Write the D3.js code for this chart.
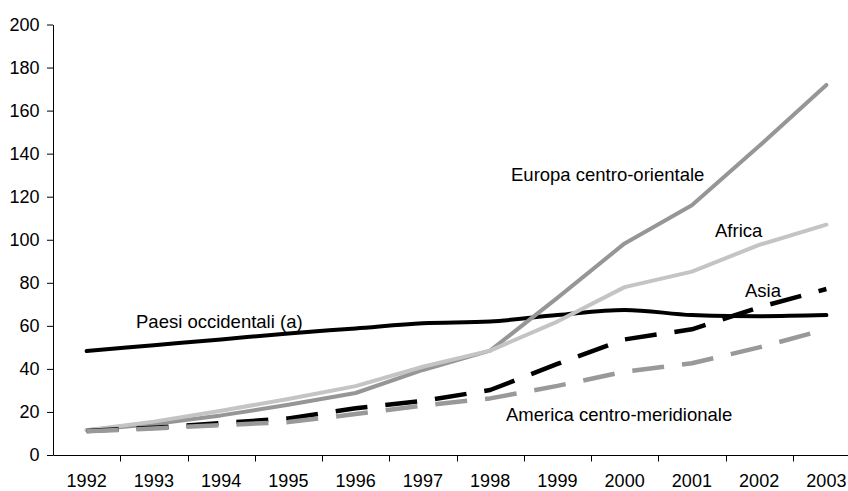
<!DOCTYPE html>
<html>
<head>
<meta charset="utf-8">
<script src="https://cdn.jsdelivr.net/npm/d3@7"></script>
<style>
  html, body { margin: 0; padding: 0; background: #fff; }
  svg { display: block; }
  text { font-family: "Liberation Sans", Arial, sans-serif; }
</style>
</head>
<body>
<script>
const years = ["1992","1993","1994","1995","1996","1997","1998","1999","2000","2001","2002","2003"];
const yTicks = [0,20,40,60,80,100,120,140,160,180,200];

const paesiOccidentali = [48.3, 51.0, 53.7, 56.5, 58.8, 61.2, 62.0, 65.0, 67.4, 65.0, 64.5, 65.0];
const europaCentroOrientale = [11.5, 14.4, 18.4, 23.3, 28.8, 39.5, 48.5, 73.0, 98.3, 116.0, 143.5, 171.9];
const africa = [11.5, 15.5, 20.6, 26.0, 32.0, 41.0, 48.5, 62.0, 78.0, 85.2, 97.6, 107.0];
const asia = [11.2, 12.7, 14.8, 17.0, 21.7, 25.1, 30.2, 42.3, 53.7, 58.4, 68.6, 77.1];
const americaCentroMeridionale = [11.0, 12.3, 13.9, 15.3, 19.0, 23.0, 26.3, 32.1, 38.7, 42.6, 50.0, 58.4];

const seriesNames = ["Paesi occidentali (a)", "Europa centro-orientale", "Africa", "Asia", "America centro-meridionale"];

const W = 848, H = 491;
const FONT = "'Liberation Sans', Arial, sans-serif";
const TICK_FS = 18, LABEL_FS = 18.5;
const svg = d3.select("body").append("svg").attr("width", W).attr("height", H);

const x = d3.scaleBand().domain(years).range([53, 860]).paddingInner(0).paddingOuter(0);
const y = d3.scaleLinear().domain([0, 200]).range([455, 24.5]);

// Y axis
const yAxis = svg.append("g").attr("transform", "translate(53,0)")
  .call(d3.axisLeft(y).tickValues(yTicks).tickSize(6).tickPadding(7.5).tickSizeOuter(0));
yAxis.selectAll("text").attr("font-size", TICK_FS).attr("fill", "#000").style("font-family", FONT);
yAxis.selectAll("line, path").attr("stroke", "#000");

// X axis: labels at band centres, ticks at band boundaries
const xAxis = svg.append("g").attr("transform", "translate(0,455)")
  .call(d3.axisBottom(x).tickSize(0).tickPadding(19).tickSizeOuter(0));
xAxis.selectAll("text").attr("font-size", TICK_FS).attr("fill", "#000").style("font-family", FONT);
xAxis.select("path").attr("stroke", "#000").attr("d", "M" + (x.range()[0] + 0.5) + ",0.5H" + W);
xAxis.selectAll(".bnd").data(years.slice(1)).enter().append("line")
  .attr("class", "bnd")
  .attr("x1", d => Math.round(x(d)) + 0.5).attr("x2", d => Math.round(x(d)) + 0.5)
  .attr("y1", 0.5).attr("y2", 6.5).attr("stroke", "#000");

const cx = (d, i) => x(years[i]) + x.bandwidth() / 2;

const series = [
  { name: seriesNames[0], values: paesiOccidentali, color: "#000000", width: 4, dash: null, curve: d3.curveCardinal.tension(0) },
  { name: seriesNames[1], values: europaCentroOrientale, color: "#969696", width: 4, dash: null, curve: d3.curveLinear },
  { name: seriesNames[2], values: africa, color: "#c4c4c4", width: 4, dash: null, curve: d3.curveLinear },
  { name: seriesNames[3], values: asia, color: "#000000", width: 4.5, dash: "32,18", curve: d3.curveLinear },
  { name: seriesNames[4], values: americaCentroMeridionale, color: "#999999", width: 4.5, dash: "32,18", curve: d3.curveLinear }
];

series.forEach(s => {
  const line = d3.line().x(cx).y(d => y(d)).curve(s.curve);
  svg.append("path").datum(s.values)
    .attr("d", line)
    .attr("fill", "none")
    .attr("stroke", s.color)
    .attr("stroke-width", s.width)
    .attr("stroke-linecap", s.dash ? "butt" : "round")
    .attr("stroke-linejoin", "round")
    .attr("stroke-dasharray", s.dash);
});

// Series labels
const labels = [
  { text: seriesNames[0], x: 136, y: 328 },
  { text: seriesNames[1], x: 511, y: 181 },
  { text: seriesNames[2], x: 715, y: 237 },
  { text: seriesNames[3], x: 745, y: 297 },
  { text: seriesNames[4], x: 506, y: 421 }
];
svg.selectAll(".lbl").data(labels).enter().append("text")
  .attr("class", "lbl")
  .attr("x", d => d.x).attr("y", d => d.y)
  .attr("font-size", LABEL_FS).attr("fill", "#000").style("font-family", FONT)
  .text(d => d.text);
</script>
</body>
</html>
